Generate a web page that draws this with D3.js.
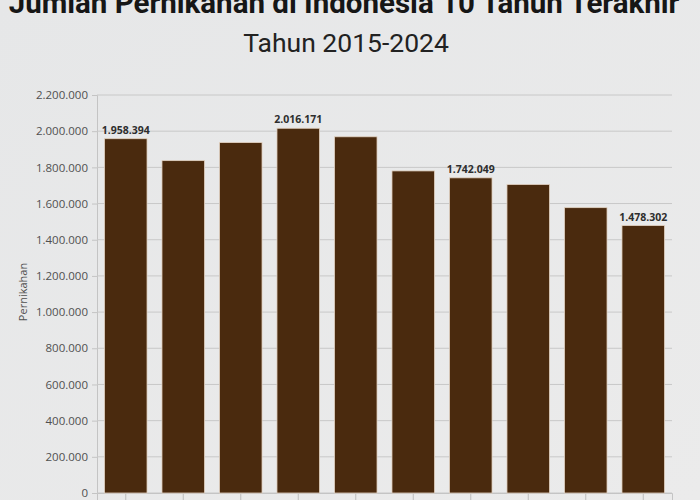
<!DOCTYPE html>
<html>
<head>
<meta charset="utf-8">
<script src="https://cdn.jsdelivr.net/npm/d3@7"></script>
<style>
  html, body { margin: 0; padding: 0; }
  body { width: 700px; height: 500px; overflow: hidden; background: #e8e8e8; }
  svg { display: block; }
</style>
</head>
<body>
<div id="chart"></div>
<script>
// dati: jumlah pernikahan per tahun
const years = ['2015', '2016', '2017', '2018', '2019', '2020', '2021', '2022', '2023', '2024'];
const marriages = [1958394, 1837185, 1936934, 2016171, 1968978, 1780346, 1742049, 1705348, 1577255, 1478302];
const labelledYears = ['2015', '2018', '2021', '2024'];
const yTicks = [0, 200000, 400000, 600000, 800000, 1000000, 1200000, 1400000, 1600000, 1800000, 2000000, 2200000];

const width = 700, height = 500;
const margin = { top: 95, right: 28, bottom: 7, left: 97 };
const innerWidth = width - margin.left - margin.right;
const innerHeight = height - margin.top - margin.bottom;

// punto come separatore delle migliaia
const fmt = d3.formatLocale({ decimal: ',', thousands: '.', grouping: [3], currency: ['Rp', ''] }).format(',d');

const root = d3.select('#chart')
  .append('svg')
  .attr('width', width)
  .attr('height', height);

const defs = root.append('defs');
const bg = defs.append('linearGradient').attr('id', 'bg').attr('x1', 0).attr('y1', 0).attr('x2', 1).attr('y2', 1);
bg.append('stop').attr('offset', 0).attr('stop-color', '#e6e7e8');
bg.append('stop').attr('offset', 1).attr('stop-color', '#ebebeb');
root.append('rect').attr('width', width).attr('height', height).attr('fill', 'url(#bg)');

// titolo (tagliato in alto come nell'originale)
root.append('text')
  .attr('x', 344).attr('y', 13)
  .attr('text-anchor', 'middle')
  .style('font-family', 'Roboto, sans-serif')
  .style('font-weight', 700)
  .style('font-size', '29.5px')
  .attr('fill', '#161616')
  .text('Jumlah Pernikahan di Indonesia 10 Tahun Terakhir');

root.append('text')
  .attr('x', 346).attr('y', 52)
  .attr('text-anchor', 'middle')
  .style('font-family', 'Roboto, sans-serif')
  .style('font-size', '26.5px')
  .attr('fill', '#222')
  .text('Tahun 2015-2024');

const svg = root.append('g')
  .attr('transform', `translate(${margin.left}, ${margin.top})`);

const x = d3.scaleBand().domain(years).range([0, innerWidth]).paddingInner(0.26).paddingOuter(0.13);
const y = d3.scaleLinear().domain([0, 2200000]).range([innerHeight, 0]);

// griglia + asse y
const yAxis = d3.axisLeft(y).tickValues(yTicks).tickFormat(fmt).tickSize(5).tickPadding(4);
const yAxisG = svg.append('g').call(yAxis);
yAxisG.select('.domain').attr('stroke', '#c4c4c4');
yAxisG.selectAll('.tick line').attr('stroke', '#c4c4c4');
yAxisG.selectAll('.tick text')
  .style('font-family', '"Open Sans", sans-serif')
  .style('font-size', '11.5px')
  .attr('fill', '#505050');

svg.append('g')
  .selectAll('line')
  .data(yTicks)
  .join('line')
  .attr('x1', 0).attr('x2', innerWidth)
  .attr('y1', d => y(d)).attr('y2', d => y(d))
  .attr('stroke', '#c8c8c8')
  .attr('stroke-width', 1);

// asse x: solo tacche (etichette fuori dall'immagine)
const xAxisG = svg.append('g')
  .attr('transform', `translate(0, ${innerHeight})`)
  .call(d3.axisBottom(x).tickSize(8).tickFormat(''));
xAxisG.select('.domain').attr('stroke', '#c4c4c4');
xAxisG.selectAll('.tick line').attr('stroke', '#bdbdbd');

svg.append('text')
  .attr('transform', 'rotate(-90)')
  .attr('x', -innerHeight / 2 + 2)
  .attr('y', -70)
  .attr('text-anchor', 'middle')
  .style('font-family', '"Open Sans", sans-serif')
  .style('font-size', '11px')
  .attr('fill', '#505050')
  .text('Pernikahan');

// barre
svg.append('g')
  .selectAll('rect')
  .data(years)
  .join('rect')
  .attr('x', d => x(d))
  .attr('y', (d, i) => y(marriages[i]))
  .attr('width', x.bandwidth())
  .attr('height', (d, i) => innerHeight - y(marriages[i]))
  .attr('fill', '#4a2a0e')
  .attr('stroke', '#e3d3c2')
  .attr('stroke-width', 0.8);

// etichette valori
svg.append('g')
  .selectAll('text')
  .data(years.filter(d => labelledYears.includes(d)))
  .join('text')
  .attr('x', d => x(d) + x.bandwidth() / 2)
  .attr('y', d => y(marriages[years.indexOf(d)]) - 5)
  .attr('text-anchor', 'middle')
  .style('font-family', '"Open Sans", sans-serif')
  .style('font-weight', 700)
  .style('font-size', '10.5px')
  .attr('fill', '#2e2e2e')
  .text(d => fmt(marriages[years.indexOf(d)]));
</script>
</body>
</html>
